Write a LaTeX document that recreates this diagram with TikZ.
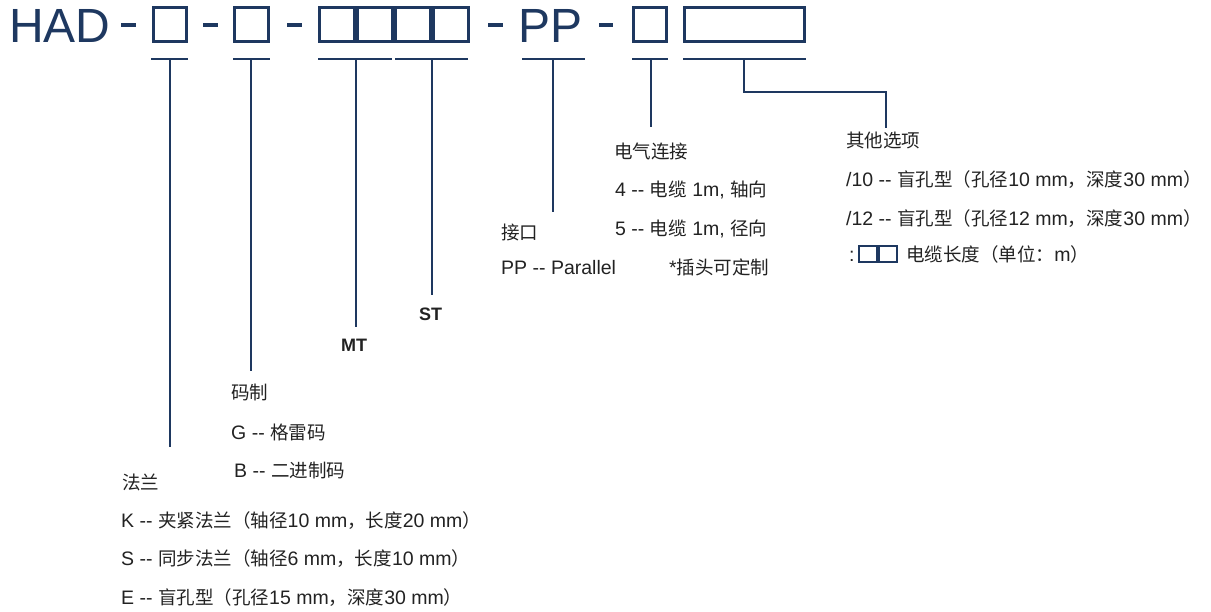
\documentclass[tikz,border=0pt]{standalone}
\usepackage{fontspec}
\setmainfont{Liberation Sans}
\newfontfamily\cjkfont{Noto Sans CJK SC}[Scale=0.95]
\newcommand\zh[1]{{\cjkfont #1}}
\newcommand\dd{-\kern0pt-}
\definecolor{navy}{RGB}{30,56,96}
\definecolor{inkc}{RGB}{34,34,34}
\begin{document}
\begin{tikzpicture}[x=1pt,y=-1pt,
  codebox/.style={draw=navy, line width=2.6pt, rectangle, inner sep=0pt, minimum height=34.4pt},
  smallbox/.style={draw=navy, line width=2.4pt, rectangle, inner sep=0pt, minimum width=17.6pt, minimum height=15.6pt},
  sep/.style={draw=navy, line width=3.2pt},
  uline/.style={draw=navy, line width=2.6pt},
  conn/.style={draw=navy, line width=2.8pt},
  big/.style={anchor=base west, inner sep=0pt, text=navy, font=\fontsize{48}{48}\selectfont},
  tx/.style={anchor=base west, inner sep=0pt, text=inkc, font=\fontsize{19.5}{19.5}\selectfont},
  btx/.style={anchor=base west, inner sep=0pt, text=inkc, font=\fontsize{18}{18}\selectfont\bfseries}]
\useasboundingbox (0,0) rectangle (1211,612);
% title row
\node[big] (had) at (9,42.7) {HAD};
\node[big] (pp) at (518,42.7) {PP};
\node[codebox, minimum width=33.4pt] (b1) at (170,24.5) {};
\node[codebox, minimum width=34.4pt] (b2) at (251.5,24.5) {};
\node[codebox, minimum width=35.4pt] (b3) at (337,24.5) {};
\node[codebox, minimum width=35.4pt] (b4) at (375,24.5) {};
\node[codebox, minimum width=35.4pt] (b5) at (413,24.5) {};
\node[codebox, minimum width=35.4pt] (b6) at (451,24.5) {};
\node[codebox, minimum width=33.4pt] (b7) at (650,24.5) {};
\node[codebox, minimum width=120.4pt] (b8) at (744.5,24.5) {};
\coordinate (d1a) at (121,25); \coordinate (d1b) at (136,25);
\coordinate (d2a) at (203,25); \coordinate (d2b) at (218,25);
\coordinate (d3a) at (287,25); \coordinate (d3b) at (302,25);
\coordinate (d4a) at (488,25); \coordinate (d4b) at (503,25);
\coordinate (d5a) at (599,25); \coordinate (d5b) at (613,25);
\foreach \i in {1,...,5} {\draw[sep] (d\i a) -- (d\i b);}
% underlines
\coordinate (u1a) at (151,59); \coordinate (u1b) at (188,59); \coordinate (u1) at (170,59);
\coordinate (u2a) at (233,59); \coordinate (u2b) at (270,59); \coordinate (u2) at (251,59);
\coordinate (u3a) at (318,59); \coordinate (u3b) at (392,59); \coordinate (u3) at (356,59);
\coordinate (u4a) at (395,59); \coordinate (u4b) at (468,59); \coordinate (u4) at (432,59);
\coordinate (u5a) at (522,59); \coordinate (u5b) at (585,59); \coordinate (u5) at (553,59);
\coordinate (u6a) at (632,59); \coordinate (u6b) at (668,59); \coordinate (u6) at (651,59);
\coordinate (u7a) at (683,59); \coordinate (u7b) at (806,59); \coordinate (u7) at (744,59);
\foreach \i in {1,...,7} {\draw[uline] (u\i a) -- (u\i b);}
% connector ends
\coordinate (e1) at (170,447);
\coordinate (e2) at (251,371);
\coordinate (e3) at (356,327);
\coordinate (e4) at (432,295);
\coordinate (e5) at (553,212);
\coordinate (e6) at (651,127);
\coordinate (k7a) at (744,92);
\coordinate (k7b) at (886,92);
\coordinate (e7) at (886,128);
\foreach \i in {1,...,6} {\draw[conn] (u\i) -- (e\i);}
\draw[conn] (u7) -- (k7a) -- (k7b) -- (e7);
% right: other options
\node[tx] (oth) at (846,148) {\zh{其他选项}};
\node[tx] (o10) at (846,187) {/10 \dd{} \zh{盲孔型（孔径}10 mm\zh{，深度}30 mm\zh{）}};
\node[tx] (o12) at (846,226) {/12 \dd{} \zh{盲孔型（孔径}12 mm\zh{，深度}30 mm\zh{）}};
\node[tx] (ocol) at (849,262) {:};
\node[smallbox] (sb1) at (868,254) {};
\node[smallbox] (sb2) at (888,254) {};
\node[tx] (olen) at (906,262) {\zh{电缆长度（单位：}m\zh{）}};
% electrical
\node[tx] (el) at (614,159) {\zh{电气连接}};
\node[tx] (el4) at (615,197) {4 \dd{} \zh{电缆} 1m, \zh{轴向}};
\node[tx] (el5) at (615,236) {5 \dd{} \zh{电缆} 1m, \zh{径向}};
\node[tx] (elc) at (669,275) {*\zh{插头可定制}};
% interface
\node[tx] (if) at (501,240) {\zh{接口}};
\node[tx] (ifp) at (501,275) {PP \dd{} Parallel};
% ST MT
\node[btx] (st) at (419,321) {ST};
\node[btx] (mt) at (341,352) {MT};
% code
\node[tx] (cd) at (231,400) {\zh{码制}};
\node[tx] (cdg) at (231,439) {G \dd{} \zh{格雷码}};
\node[tx] (cdb) at (234,477) {B \dd{} \zh{二进制码}};
% flange
\node[tx] (fl) at (122,489) {\zh{法兰}};
\node[tx] (flk) at (121,527) {K \dd{} \zh{夹紧法兰（轴径}10 mm\zh{，长度}20 mm\zh{）}};
\node[tx] (fls) at (121,565) {S \dd{} \zh{同步法兰（轴径}6 mm\zh{，长度}10 mm\zh{）}};
\node[tx] (fle) at (121,604) {E \dd{} \zh{盲孔型（孔径}15 mm\zh{，深度}30 mm\zh{）}};
\end{tikzpicture}
\end{document}
